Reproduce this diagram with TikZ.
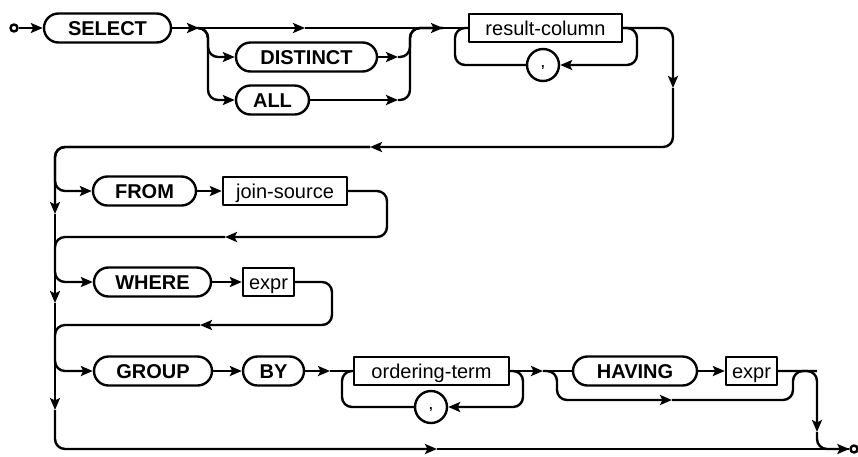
\documentclass[tikz,border=0pt]{standalone}
\usepackage{fontspec}
\setmainfont{Liberation Sans}
\usetikzlibrary{arrows.meta}

\begin{document}
\begin{tikzpicture}[x=1pt,y=-1pt,line width=2.4pt,line join=round,
  kw/.style={draw,rounded corners=14.5pt,minimum height=29pt,inner sep=0pt,text height=14pt,text depth=0pt,font=\fontsize{20}{22}\selectfont\bfseries},
  nt/.style={draw,minimum height=28pt,inner sep=0pt,text height=14pt,text depth=0pt,font=\fontsize{20}{22}\selectfont},
  sep/.style={draw,circle,minimum size=32pt,inner sep=0pt,text height=5pt,text depth=0pt,font=\fontsize{13}{14}\selectfont\bfseries},
  term/.style={draw,circle,minimum size=7pt,inner sep=0pt},
  arr/.style={-{Stealth[length=12pt,width=10pt,inset=2.5pt]}},
  rc/.style={rounded corners=10pt}]
  \useasboundingbox (0,0) rectangle (858,456);
  % boxes
  \node[term] (start) at (14,28) {};
  \node[kw,minimum width=127pt] (select) at (107.5,28) {SELECT};
  \node[kw,minimum width=141pt] (distinct) at (306.5,57) {DISTINCT};
  \node[kw,minimum width=73pt] (all) at (272.5,100) {ALL};
  \node[nt,minimum width=153pt] (rescol) at (545.5,28) {result-column};
  \node[sep] (comma1) at (543,65) {,};
  \node[kw,minimum width=103pt] (from) at (144.5,191) {FROM};
  \node[nt,minimum width=124pt] (joinsrc) at (285,191) {join-source};
  \node[kw,minimum width=117pt] (where) at (152.5,282) {WHERE};
  \node[nt,minimum width=51pt] (wexpr) at (268.5,282) {expr};
  \node[kw,minimum width=118pt] (group) at (153,371) {GROUP};
  \node[kw,minimum width=61pt] (by) at (273.5,371) {BY};
  \node[nt,minimum width=155pt] (ordterm) at (431.5,371) {ordering-term};
  \node[sep] (comma2) at (431,407) {,};
  \node[kw,minimum width=124pt] (having) at (635,371) {HAVING};
  \node[nt,minimum width=51pt] (hexpr) at (751.5,371) {expr};
  \node[term] (stop) at (854,449) {};
  % turning points
  \coordinate (t1) at (199,28);
  \coordinate (lr1) at (208,28);
  \coordinate (t2) at (305,28);
  \coordinate (rr1) at (410,28);
  \coordinate (t3) at (443,28);
  \coordinate (dd) at (398,57);
  \coordinate (ad) at (398,100);
  \coordinate (lp1l) at (455,65);
  \coordinate (lp1r) at (637,65);
  \coordinate (d1) at (673,88);
  \coordinate (c1) at (370,147);
  \foreach \n/\y in {0/147,1/191,2/237,3/282,4/325,5/371,6/449} {\coordinate (L\n) at (55,\y);}
  \foreach \n/\y in {1/214,2/303,3/410} {\coordinate (v\n) at (55,\y);}
  \coordinate (jr) at (387,237);
  \coordinate (c2) at (225,237);
  \coordinate (wr) at (332,325);
  \coordinate (c3) at (200,325);
  \coordinate (o1) at (330,371);
  \coordinate (lp2l) at (342,407);
  \coordinate (lp2r) at (523,407);
  \coordinate (h1) at (543,371);
  \coordinate (hb) at (557,371);
  \coordinate (hm) at (672,400);
  \coordinate (hr) at (793,371);
  \coordinate (er) at (817,371);
  \coordinate (d4) at (817,432);
  \coordinate (b1) at (437,449);
  % SELECT row
  \draw[arr] (start) -- (select);
  \draw[arr] (select) -- (t1);
  \draw[arr] (t1) -- (t2);
  \draw[arr] (t2) -- (t3);
  \draw (t3) -- (rescol);
  \draw[arr,rc] (t1) -- (lr1) |- (distinct);
  \draw[arr,rc] (t1) -- (lr1) |- (all);
  \draw[arr] (distinct) -- (dd);
  \draw[arr] (all) -- (ad);
  \draw[rc] (dd) -| (rr1) -- (t3);
  \draw[rc] (ad) -| (rr1) -- (t3);
  \draw[arr,rc] (rescol.east) -| (lp1r) -- (comma1);
  \draw[rc] (comma1) -- (lp1l) |- (rescol.west);
  \draw[arr,rc] (rescol.east) -| (d1);
  \draw[arr,rc] (d1) |- (c1);
  % FROM and WHERE
  \draw[arr,rc] (c1) -- (L0) -- (v1);
  \draw[arr,rc] (c1) -- (L0) -- (L1) -- (from);
  \draw[arr] (from) -- (joinsrc);
  \draw[arr,rc] (joinsrc) -| (jr) -- (c2);
  \draw[arr] (v1) -- (v2);
  \draw[arr,rc] (c2) -- (L2) -- (L3) -- (where);
  \draw[arr] (where) -- (wexpr);
  \draw[arr,rc] (wexpr) -| (wr) -- (c3);
  \draw[arr] (v2) -- (v3);
  % GROUP BY
  \draw[arr,rc] (c3) -- (L4) -- (L5) -- (group);
  \draw[arr] (group) -- (by);
  \draw[arr] (by) -- (o1);
  \draw (o1) -- (ordterm);
  \draw[arr,rc] (ordterm.east) -| (lp2r) -- (comma2);
  \draw[rc] (comma2) -- (lp2l) |- (ordterm.west);
  \draw[arr] (ordterm) -- (h1);
  \draw (h1) -- (having);
  \draw[arr] (having) -- (hexpr);
  \draw[arr,rc] (h1) -- (hb) |- (hm);
  \draw[rc] (hm) -| (hr) -- (er);
  \draw[arr,rc] (hexpr) -| (d4);
  \draw[arr,rc] (d4) |- (stop);
  \draw[arr,rc] (v3) -- (L6) -- (b1);
  \draw (b1) -- (stop);
\end{tikzpicture}
\end{document}
